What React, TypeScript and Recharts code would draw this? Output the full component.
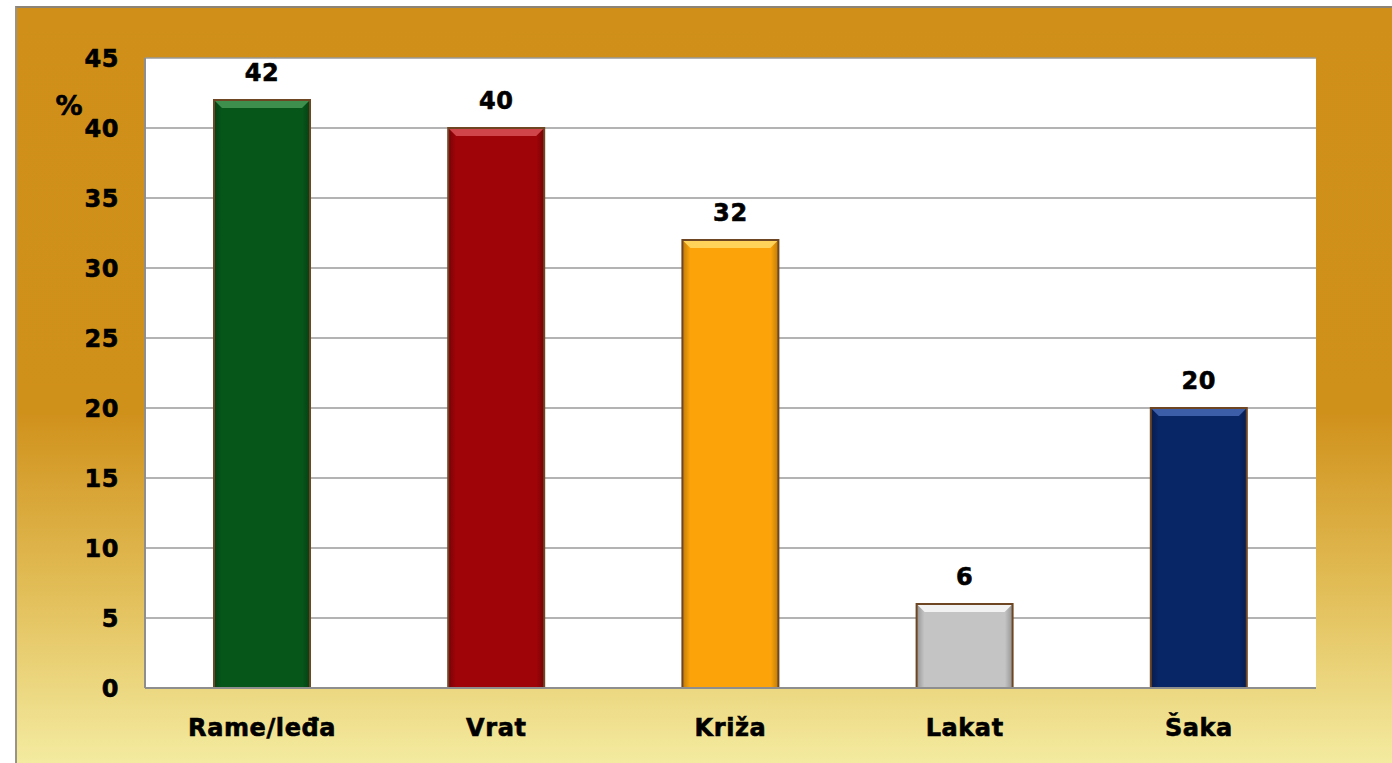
import React from 'react';
import { BarChart, Bar, XAxis, YAxis, CartesianGrid, LabelList, Cell } from 'recharts';

const categories = ['Rame/leđa', 'Vrat', 'Križa', 'Lakat', 'Šaka'];
const values = [42, 40, 32, 6, 20];
const barColors = ['#06561A', '#9E0408', '#FCA30A', '#C4C4C4', '#082566'];
const barHighlights = ['#3E8E4E', '#D0454A', '#FFD35A', '#F2F2F2', '#3C5EA8'];
const yTicks = [0, 5, 10, 15, 20, 25, 30, 35, 40, 45];

const data = categories.map((name, i) => ({ name, value: values[i], idx: i }));

const FONT = '"DejaVu Sans", Arial, sans-serif';
const textStyle = {
  fill: '#000',
  fontFamily: FONT,
  fontWeight: 'bold',
  fontSize: 24,
  stroke: '#000',
  strokeWidth: 0.6,
  letterSpacing: 0.6,
};

const BevelBar = (props: any) => {
  const { x, y, width, height, index } = props;
  if (!height || height <= 0) return null;
  const c = barColors[index];
  const h = barHighlights[index];
  const b = Math.min(8, height / 3);
  return (
    <g>
      <rect x={x} y={y} width={width} height={height} fill={c} />
      <rect x={x} y={y} width={width} height={height} fill={`url(#side${index})`} />
      <polygon
        points={`${x},${y} ${x + width},${y} ${x + width - b},${y + b} ${x + b},${y + b}`}
        fill={h}
      />
      <rect x={x} y={y} width={width} height={height} fill="none" stroke="#6E4624" strokeWidth={2} />
    </g>
  );
};

export default function App() {
  return (
    <div style={{ position: 'absolute', left: 0, top: 0, width: 1392, height: 763, overflow: 'hidden', background: '#fff' }}>
      <div
        style={{
          position: 'absolute',
          left: 15,
          top: 6,
          width: 1400,
          height: 780,
          background: 'linear-gradient(to bottom, #CF8F19 0%, #D0911B 52%, #E2BE58 75%, #F6F1AA 100%)',
          borderTop: '2px solid #8C8577',
          borderLeft: '2px solid #9A9388',
          boxSizing: 'border-box',
        }}
      />
      <div style={{ position: 'absolute', left: 0, top: 0 }}>
        <BarChart width={1392} height={763} data={data} margin={{ top: 58, right: 76, bottom: 0, left: 0 }} barSize={96}>
          <defs>
            {barColors.map((c, i) => (
              <linearGradient key={i} id={`side${i}`} x1="0" y1="0" x2="1" y2="0">
                <stop offset="0%" stopColor="#000" stopOpacity={0.25} />
                <stop offset="8%" stopColor="#000" stopOpacity={0} />
                <stop offset="92%" stopColor="#000" stopOpacity={0} />
                <stop offset="100%" stopColor="#000" stopOpacity={0.25} />
              </linearGradient>
            ))}
          </defs>
          <CartesianGrid vertical={false} fill="#FFFFFF" stroke="#9A9A9A" strokeWidth={1.5} />
          <XAxis
            dataKey="name"
            height={75}
            axisLine={{ stroke: '#8E8E8E', strokeWidth: 2 }}
            tickLine={false}
            tickMargin={25}
            tick={textStyle}
          />
          <YAxis
            width={145}
            domain={[0, 45]}
            ticks={yTicks}
            interval={0}
            axisLine={{ stroke: '#8E8E8E', strokeWidth: 2 }}
            tickLine={false}
            tickMargin={20}
            tick={textStyle}
            label={() => (
              <text x={69} y={115} textAnchor="middle" fontFamily={FONT} fontWeight="bold" fontSize={27} fill="#000" stroke="#000" strokeWidth={0.6}>
                %
              </text>
            )}
          />
          <Bar dataKey="value" isAnimationActive={false} shape={<BevelBar />}>
            {data.map((d, i) => (
              <Cell key={i} fill={barColors[i]} />
            ))}
            <LabelList dataKey="value" position="top" offset={19} style={textStyle} />
          </Bar>
        </BarChart>
      </div>
    </div>
  );
}
